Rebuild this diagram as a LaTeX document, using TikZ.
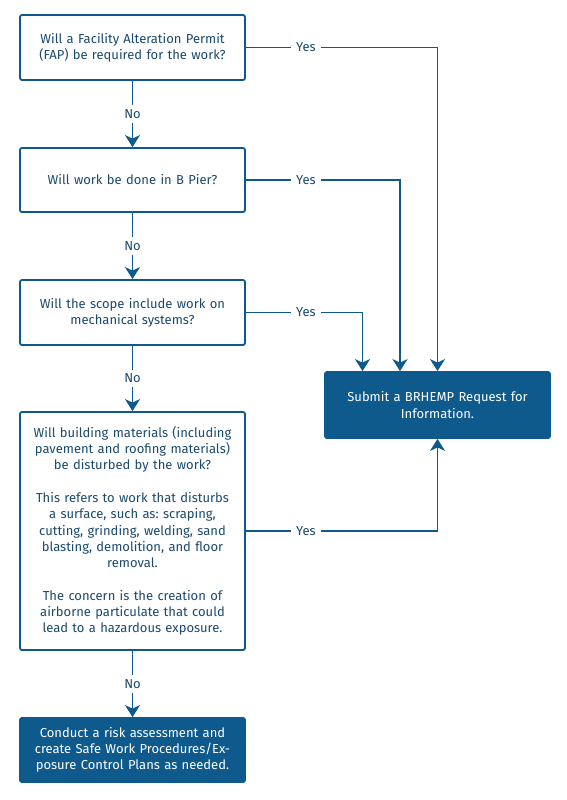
\documentclass[tikz,border=0pt]{standalone}
\usepackage{fontspec}
\setmainfont{Fira Sans}
\usetikzlibrary{arrows.meta}
\definecolor{fapblue}{HTML}{0F5A8C}
\definecolor{faptext}{HTML}{1B4A6C}
\frenchspacing

\begin{document}
\begin{tikzpicture}
            [x=1pt, y=-1pt, color=fapblue, line width=1.8pt,
             >={Stealth[length=12pt,width=15pt,inset=3.5pt]},
             question/.style={shape=rectangle, draw=fapblue, fill=white, rounded corners=2pt,
                              text=faptext, text width=215pt, inner xsep=5pt, inner ysep=0pt,
                              align=center, font=\fontsize{13}{16.3}\selectfont},
             action/.style={question, fill=fapblue, text=white},
             nolbl/.style={fill=white, text=faptext, inner sep=4pt, font=\fontsize{13}{14}\selectfont},
             yeslbl/.style={at start, xshift=60pt, fill=white, text=faptext, inner sep=5pt,
                            font=\fontsize{13}{14}\selectfont}]
            \useasboundingbox (0,0) rectangle (567,800);

            \node[question, minimum height=65pt] (fap) at (132.5, 47.5)
                {Will a Facility Alteration Permit\\(FAP) be required for the work?};
            \node[question, minimum height=64pt] (bpier) at (132.5, 180)
                {Will work be done in B Pier?};
            \node[question, minimum height=65pt] (mech) at (132.5, 312.5)
                {Will the scope include work on\\mechanical systems?};
            \node[question, minimum height=238pt] (mater) at (132.5, 531)
                {Will building materials (including\\pavement and roofing materials)\\be disturbed by the work?\\[16.3pt]
                 This refers to work that disturbs\\a surface, such as: scraping,\\cutting, grinding, welding, sand\\blasting, demolition, and floor\\removal.\\[16.3pt]
                 The concern is the creation of\\airborne particulate that could\\lead to a hazardous exposure.};
            \node[action, minimum height=64pt] (risk) at (132.5, 750)
                {Conduct a risk assessment and\\create Safe Work Procedures/Ex-\\posure Control Plans as needed.};
            \node[action, minimum height=66pt] (brhemp) at (437.5, 405)
                {Submit a BRHEMP Request for\\Information.};

            \path [->] (fap) edge node[nolbl] {No} (bpier);
            \path [->] (bpier) edge node[nolbl] {No} (mech);
            \path [->] (mech) edge node[nolbl] {No} (mater);
            \path [->] (mater) edge node[nolbl] {No} (risk);

            \draw [->] (fap.east) -| node[yeslbl] {Yes} (brhemp.north);
            \draw [->] (bpier.east) -| node[yeslbl] {Yes} ([xshift=-37.5pt]brhemp.north);
            \draw [->] (mech.east) -| node[yeslbl] {Yes} ([xshift=-75pt]brhemp.north);
            \draw [->] (mater.east) -| node[yeslbl] {Yes} (brhemp.south);
        \end{tikzpicture}
\end{document}
